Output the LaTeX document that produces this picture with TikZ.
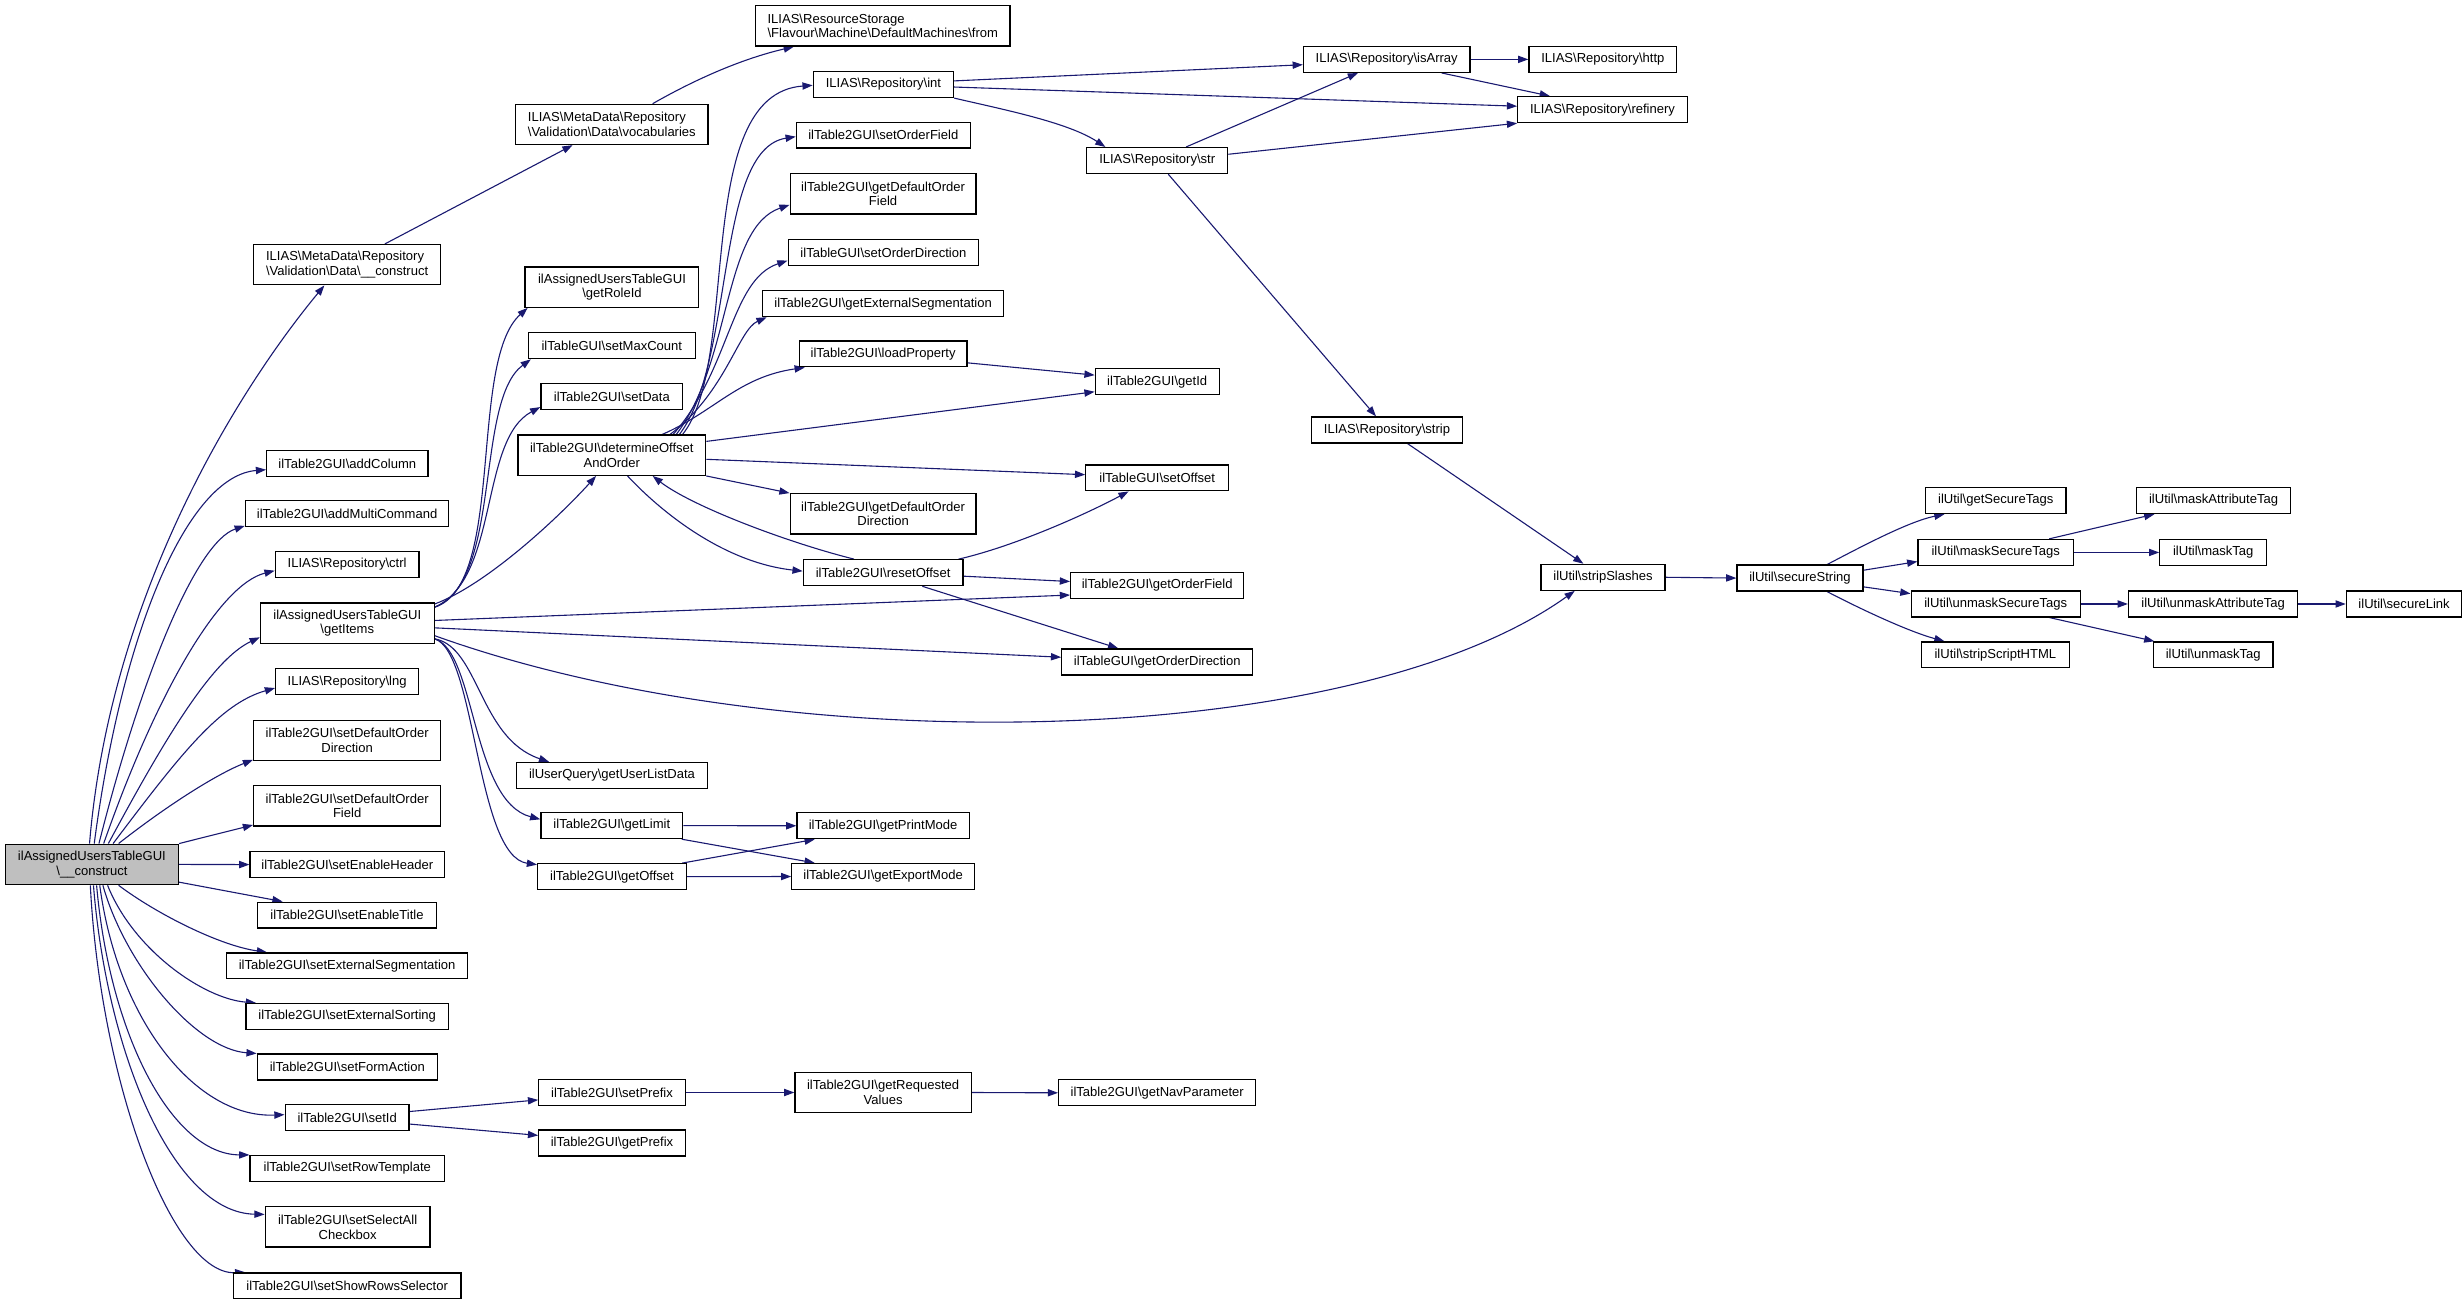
\documentclass[tikz,border=0pt]{standalone}
\usepackage{fontspec}
\setmainfont{Liberation Sans}
\usetikzlibrary{arrows.meta}
\definecolor{edgec}{HTML}{191970}
\definecolor{maingray}{HTML}{BFBFBF}
\newcommand\bsl{\textbackslash}
\newcommand\mknode[7][]{\node[box,#1,minimum width=#5pt,minimum height=#6pt] (#2) at (#3,#4) {#7};}
\pgfdeclarelayer{bg}
\pgfsetlayers{bg,main}
\begin{document}
\begin{tikzpicture}[x=1pt,y=-1pt,
  box/.style={draw=black,line width=0.8pt,fill=white,inner sep=0pt,align=center,
    font=\fontsize{8.3}{9.4}\selectfont},
  lbox/.style={align=left},
  edge/.style={draw=edgec,line width=0.7pt,-{Triangle[length=6.5pt,width=4.6pt]}}]
\useasboundingbox (0,0) rectangle (1568,830.8);
% column 1
\mknode[fill=maingray]{main}{58.5}{550.3}{110.3}{25.8}{ilAssignedUsersTableGUI\\\bsl\_\_construct}
% column 2
\mknode[lbox]{mdc}{221}{168.5}{119}{25.6}{ILIAS\bsl MetaData\bsl Repository\\\bsl Validation\bsl Data\bsl\_\_construct}
\mknode{addColumn}{221.1}{295}{102.6}{16.5}{ilTable2GUI\bsl addColumn}
\mknode{addMulti}{221}{327.1}{129.5}{16.5}{ilTable2GUI\bsl addMultiCommand}
\mknode{ctrl}{221}{359.3}{91.5}{16.5}{ILIAS\bsl Repository\bsl ctrl}
\mknode{getItems}{221.1}{396.7}{110.6}{25.6}{ilAssignedUsersTableGUI\\\bsl getItems}
\mknode{lng}{221}{434}{91}{16.5}{ILIAS\bsl Repository\bsl lng}
\mknode{sDODir}{221}{471.5}{119}{25.6}{ilTable2GUI\bsl setDefaultOrder\\Direction}
\mknode{sDOField}{221}{513}{119}{25.6}{ilTable2GUI\bsl setDefaultOrder\\Field}
\mknode{sEH}{221.1}{550.4}{123.8}{16.5}{ilTable2GUI\bsl setEnableHeader}
\mknode{sET}{220.9}{582.6}{114.2}{16.5}{ilTable2GUI\bsl setEnableTitle}
\mknode{sES}{221}{614.9}{153.5}{16.5}{ilTable2GUI\bsl setExternalSegmentation}
\mknode{sESort}{221}{647.1}{128.9}{16.5}{ilTable2GUI\bsl setExternalSorting}
\mknode{sFA}{221.1}{679.3}{114.6}{16.5}{ilTable2GUI\bsl setFormAction}
\mknode{setId}{221}{711.6}{78.9}{16.5}{ilTable2GUI\bsl setId}
\mknode{sRT}{221.1}{743.9}{123.8}{16.5}{ilTable2GUI\bsl setRowTemplate}
\mknode{sSAC}{221.3}{781.1}{104.9}{25.6}{ilTable2GUI\bsl setSelectAll\\Checkbox}
\mknode{sSRS}{221}{818.6}{144.9}{16.5}{ilTable2GUI\bsl setShowRowsSelector}
% column 3
\mknode[lbox]{voc}{389.5}{79.2}{122.6}{25.6}{ILIAS\bsl MetaData\bsl Repository\\\bsl Validation\bsl Data\bsl vocabularies}
\mknode{roleId}{389.6}{182.8}{110.6}{25.6}{ilAssignedUsersTableGUI\\\bsl getRoleId}
\mknode{maxCount}{389.5}{220.1}{106.3}{16.5}{ilTableGUI\bsl setMaxCount}
\mknode{setData}{389.5}{252.5}{90.3}{16.5}{ilTable2GUI\bsl setData}
\mknode{det}{389.5}{289.8}{119.5}{25.6}{ilTable2GUI\bsl determineOffset\\AndOrder}
\mknode{userList}{389.6}{493.7}{121.2}{16.5}{ilUserQuery\bsl getUserListData}
\mknode{getLimit}{389.5}{525.6}{90.3}{16.5}{ilTable2GUI\bsl getLimit}
\mknode{getOffset}{389.6}{558.1}{94.6}{16.5}{ilTable2GUI\bsl getOffset}
\mknode{setPrefix}{389.6}{695.5}{93.2}{16.5}{ilTable2GUI\bsl setPrefix}
\mknode{getPrefix}{389.6}{727.7}{93.2}{16.5}{ilTable2GUI\bsl getPrefix}
% column 4
\mknode[lbox]{from}{562}{16.5}{161.8}{25.6}{ILIAS\bsl ResourceStorage\\\bsl Flavour\bsl Machine\bsl DefaultMachines\bsl from}
\mknode{int}{562.4}{53.8}{89.3}{16.5}{ILIAS\bsl Repository\bsl int}
\mknode{setOrderField}{562.3}{86}{110.6}{16.5}{ilTable2GUI\bsl setOrderField}
\mknode{gDOField}{562.2}{123.4}{118.3}{25.6}{ilTable2GUI\bsl getDefaultOrder\\Field}
\mknode{setOrderDir}{562.4}{160.9}{121.3}{16.5}{ilTableGUI\bsl setOrderDirection}
\mknode{getExtSeg}{562.2}{193.3}{153.5}{16.5}{ilTable2GUI\bsl getExternalSegmentation}
\mknode{loadProp}{562.2}{225.3}{106.9}{16.5}{ilTable2GUI\bsl loadProperty}
\mknode{gDODir}{562.2}{327.1}{118.3}{25.6}{ilTable2GUI\bsl getDefaultOrder\\Direction}
\mknode{resetOffset}{562.2}{364.6}{101.6}{16.5}{ilTable2GUI\bsl resetOffset}
\mknode{printMode}{562.2}{525.7}{109.6}{16.5}{ilTable2GUI\bsl getPrintMode}
\mknode{exportMode}{562.2}{558}{116.2}{16.5}{ilTable2GUI\bsl getExportMode}
\mknode{reqValues}{562.2}{695.5}{112.2}{25.6}{ilTable2GUI\bsl getRequested\\Values}
% column 5
\mknode{str}{736.7}{102.2}{89.8}{16.5}{ILIAS\bsl Repository\bsl str}
\mknode{getId}{736.7}{243}{78.9}{16.5}{ilTable2GUI\bsl getId}
\mknode{setOffset}{736.7}{304.2}{90.9}{16.5}{ilTableGUI\bsl setOffset}
\mknode{getOrderField}{736.7}{372.8}{110.2}{16.5}{ilTable2GUI\bsl getOrderField}
\mknode{getOrderDir}{736.7}{421.4}{121.5}{16.5}{ilTableGUI\bsl getOrderDirection}
\mknode{navParam}{736.7}{695.7}{125.5}{16.5}{ilTable2GUI\bsl getNavParameter}
% column 6
\mknode{isArray}{882.8}{37.8}{106}{16.5}{ILIAS\bsl Repository\bsl isArray}
\mknode{strip}{883}{273.7}{96}{16.5}{ILIAS\bsl Repository\bsl strip}
% column 7
\mknode{http}{1020.4}{37.8}{94.1}{16.5}{ILIAS\bsl Repository\bsl http}
\mknode{refinery}{1020.2}{69.8}{108}{16.5}{ILIAS\bsl Repository\bsl refinery}
\mknode{stripSlashes}{1020.5}{367.5}{79}{16.5}{ilUtil\bsl stripSlashes}
% column 8-10
\mknode{secureString}{1145.9}{368}{80.2}{16.5}{ilUtil\bsl secureString}
\mknode{getSecureTags}{1270.5}{318.7}{89.6}{16.5}{ilUtil\bsl getSecureTags}
\mknode{maskSecureTags}{1270.5}{351.7}{99}{16.5}{ilUtil\bsl maskSecureTags}
\mknode{unmaskSecureTags}{1270.5}{384.5}{107.7}{16.5}{ilUtil\bsl unmaskSecureTags}
\mknode{stripScriptHTML}{1270.3}{416.9}{93.9}{16.5}{ilUtil\bsl stripScriptHTML}
\mknode{maskAttributeTag}{1409.2}{318.7}{98.3}{16.5}{ilUtil\bsl maskAttributeTag}
\mknode{maskTag}{1409}{351.7}{68}{16.5}{ilUtil\bsl maskTag}
\mknode{unmaskAttributeTag}{1408.9}{384.5}{107.7}{16.5}{ilUtil\bsl unmaskAttributeTag}
\mknode{unmaskTag}{1409}{416.9}{76}{16.5}{ilUtil\bsl unmaskTag}
\mknode{secureLink}{1530.5}{384.5}{73.5}{16.5}{ilUtil\bsl secureLink}

\begin{pgfonlayer}{bg}
% from main, upward
\draw[edge] ([xshift=-1.5pt]main.north) .. controls (70,380) and (150,250) .. ([xshift=-14.5pt]mdc.south);
\draw[edge] ([xshift=1.5pt]main.north) .. controls (78,400) and (120,303) .. ([yshift=-4pt]addColumn.west);
\draw[edge] ([xshift=4.5pt]main.north) .. controls (90,430) and (125,345) .. ([yshift=1pt]addMulti.south west);
\draw[edge] ([xshift=7.5pt]main.north) .. controls (100,440) and (140,372) .. ([yshift=-4pt]ctrl.west);
\draw[edge] ([xshift=10.5pt]main.north) .. controls (105,470) and (135,420) .. ([yshift=-9pt]getItems.west);
\draw[edge] ([xshift=13.5pt]main.north) .. controls (115,480) and (140,448) .. ([yshift=-4pt]lng.west);
\draw[edge] ([xshift=17pt]main.north) .. controls (110,510) and (140,492) .. ([yshift=1pt]sDODir.south west);
\draw[edge] (main.north east) -- ([yshift=1pt]sDOField.south west);
\draw[edge] (main.east) -- (sEH.west);
\draw[edge] ([yshift=2pt]main.south east) -- ([xshift=-41pt]sET.north);
% from main, downward
\draw[edge] ([xshift=17pt]main.south) .. controls (100,582) and (140,602) .. ([xshift=-51pt]sES.north);
\draw[edge] ([xshift=10pt]main.south) .. controls (85,605) and (130,636) .. ([xshift=-58pt]sESort.north);
\draw[edge] ([xshift=7pt]main.south) .. controls (80,615) and (125,668) .. (sFA.north west);
\draw[edge] ([xshift=5pt]main.south) .. controls (75,650) and (125,712) .. ([yshift=2pt]setId.west);
\draw[edge] ([xshift=3pt]main.south) .. controls (70,660) and (110,735) .. (sRT.north west);
\draw[edge] ([xshift=1pt]main.south) .. controls (68,670) and (110,772) .. ([yshift=8pt]sSAC.west);
\draw[edge] ([xshift=-1pt]main.south) .. controls (64,690) and (110,812) .. ([xshift=8pt]sSRS.north west);
% metadata chain
\draw[edge] ([xshift=24pt]mdc.north) -- ([xshift=-25pt]voc.south);
\draw[edge] ([xshift=26pt]voc.north) .. controls (440,52) and (470,38) .. ([xshift=-56.6pt]from.south);
% getItems
\draw[edge] ([yshift=-3pt]getItems.north east) .. controls (322,372) and (298,230) .. ([xshift=2pt]roleId.south west);
\draw[edge] ([yshift=-3pt]getItems.north east) .. controls (320,370) and (302,255) .. ([xshift=2pt]maxCount.south west);
\draw[edge] ([yshift=-3pt]getItems.north east) .. controls (318,368) and (305,280) .. ([yshift=2pt]setData.south west);
\draw[edge] ([yshift=-1pt]getItems.north east) .. controls (310,372) and (355,330) .. ([xshift=-10pt]det.south);
\draw[edge] ([yshift=1.7pt]getItems.east) -- ([yshift=-6pt]getOrderField.west);
\draw[edge] ([yshift=-3pt]getItems.east) -- ([yshift=3pt]getOrderDir.west);
\draw[edge] ([yshift=-8pt]getItems.east) .. controls (500,485) and (860,478) .. ([xshift=-18pt]stripSlashes.south);
\draw[edge] ([yshift=-10pt]getItems.east) .. controls (305,412) and (305,470) .. ([xshift=-40pt]userList.north);
\draw[edge] ([yshift=-10pt]getItems.east) .. controls (303,415) and (300,510) .. ([yshift=4pt]getLimit.west);
\draw[edge] ([yshift=-10pt]getItems.east) .. controls (303,415) and (303,545) .. ([yshift=-1pt]getOffset.north west);
% determineOffsetAndOrder
\draw[edge] ([xshift=45pt]det.north) .. controls (472,230) and (440,60) .. ([yshift=-0.5pt]int.west);
\draw[edge] ([xshift=43pt]det.north) .. controls (468,230) and (455,95) .. ([yshift=-1pt]setOrderField.west);
\draw[edge] ([xshift=41pt]det.north) .. controls (466,230) and (460,145) .. ([yshift=-7pt]gDOField.west);
\draw[edge] ([xshift=39pt]det.north) .. controls (465,235) and (465,178) .. ([yshift=-5pt]setOrderDir.west);
\draw[edge] ([xshift=37pt]det.north) .. controls (462,250) and (470,210) .. ([xshift=3pt]getExtSeg.south west);
\draw[edge] ([xshift=32pt]det.north) .. controls (455,262) and (470,240) .. ([xshift=4pt]loadProp.south west);
\draw[edge] ([yshift=8.8pt]det.east) -- ([yshift=-6.4pt]getId.west);
\draw[edge] ([yshift=-2.6pt]det.east) -- ([yshift=2pt]setOffset.west);
\draw[edge] (det.south east) -- (gDODir.north west);
\draw[edge] ([xshift=10pt]det.south) .. controls (420,325) and (460,358) .. ([yshift=1pt]resetOffset.west);
\draw[edge] ([xshift=-18.5pt]resetOffset.north) .. controls (500,345) and (440,322) .. ([xshift=26pt]det.south);
% resetOffset
\draw[edge] ([xshift=48pt]resetOffset.north) .. controls (645,348) and (690,328) .. ([xshift=-18.2pt]setOffset.south);
\draw[edge] ([yshift=-2.2pt]resetOffset.east) -- ([yshift=2.6pt]getOrderField.west);
\draw[edge] ([xshift=25pt]resetOffset.south) -- ([xshift=-24.8pt]getOrderDir.north);
\draw[edge] ([yshift=-5.7pt]loadProp.east) -- ([yshift=4.2pt]getId.west);
% int / str
\draw[edge] ([yshift=2.3pt]int.east) -- ([yshift=-3.4pt]isArray.west);
\draw[edge] ([yshift=-1.6pt]int.east) -- ([yshift=2.2pt]refinery.west);
\draw[edge] (int.south east) .. controls (640,70) and (680,78) .. ([xshift=-33pt]str.north);
\draw[edge] ([xshift=18.4pt]str.north) -- ([xshift=-18.3pt]isArray.south);
\draw[edge] ([yshift=4pt]str.east) -- (refinery.south west);
\draw[edge] ([xshift=7pt]str.south) -- ([xshift=-7pt]strip.north);
\draw[edge] (isArray.east) -- (http.west);
\draw[edge] ([xshift=35pt]isArray.south) -- ([xshift=-33.5pt]refinery.north);
\draw[edge] ([xshift=13pt]strip.south) -- ([xshift=-12.5pt]stripSlashes.north);
\draw[edge] (stripSlashes.east) -- (secureString.west);
% secureString
\draw[edge] ([xshift=17.3pt]secureString.north) .. controls (1185,348) and (1215,332) .. ([xshift=-32.6pt]getSecureTags.south);
\draw[edge] ([yshift=5pt]secureString.east) -- ([yshift=-5.8pt]maskSecureTags.west);
\draw[edge] ([yshift=-5.6pt]secureString.east) -- ([yshift=6.6pt]unmaskSecureTags.west);
\draw[edge] ([xshift=17.3pt]secureString.south) .. controls (1185,388) and (1215,402) .. ([xshift=-32.4pt]stripScriptHTML.north);
\draw[edge] ([xshift=34pt]maskSecureTags.north) -- ([xshift=-37.7pt]maskAttributeTag.south);
\draw[edge] (maskSecureTags.east) -- (maskTag.west);
\draw[edge] (unmaskSecureTags.east) -- (unmaskAttributeTag.west);
\draw[edge] ([xshift=34.2pt]unmaskSecureTags.south) -- ([xshift=-37.5pt]unmaskTag.north);
\draw[edge] (unmaskAttributeTag.east) -- (secureLink.west);
% getLimit / getOffset
\draw[edge] (getLimit.east) -- (printMode.west);
\draw[edge] ([xshift=-1pt]getLimit.south east) -- ([xshift=-43.5pt]exportMode.north);
\draw[edge] ([xshift=-3pt]getOffset.north east) -- ([xshift=-43.5pt]printMode.south);
\draw[edge] (getOffset.east) -- (exportMode.west);
% setId chain
\draw[edge] ([yshift=4pt]setId.east) -- ([yshift=-4.7pt]setPrefix.west);
\draw[edge] ([yshift=-4pt]setId.east) -- ([yshift=4.9pt]getPrefix.west);
\draw[edge] (setPrefix.east) -- (reqValues.west);
\draw[edge] (reqValues.east) -- (navParam.west);
\end{pgfonlayer}
\end{tikzpicture}
\end{document}
